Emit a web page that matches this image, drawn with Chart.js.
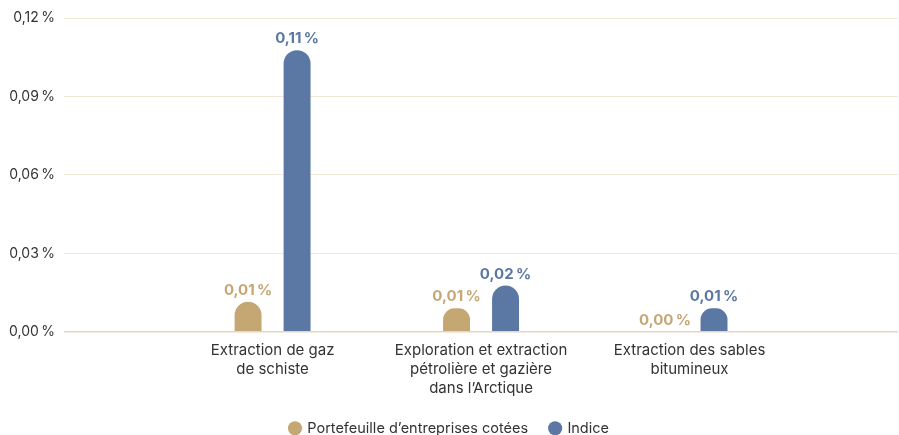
<!DOCTYPE html>
<html lang="fr">
<head>
<meta charset="utf-8">
<title>Exposition aux combustibles fossiles</title>
<script src="https://cdn.jsdelivr.net/npm/chart.js@4/dist/chart.umd.min.js"></script>
<style>
    body { margin: 0; background: #fff; }
    #graphique { display: block; }
</style>
</head>
<body>
<canvas id="graphique" width="899" height="435"></canvas>
<script>
const categories = [
    ['Extraction de gaz', 'de schiste'],
    ['Exploration et extraction', 'pétrolière et gazière', 'dans l\u2019Arctique'],
    ['Extraction des sables', 'bitumineux'],
];
const portefeuille = [0.0115, 0.009, 0];
const indice = [0.1077, 0.0177, 0.009];
const ticksY = [0, 0.03, 0.06, 0.09, 0.12];

const couleurPortefeuille = '#c5a774';
const couleurIndice = '#5b77a4';

function formatPct(v) {
    return v.toFixed(2).replace('.', ',') + '\u202f%';
}

// étiquettes au-dessus des barres
const etiquettesBarres = {
    id: 'etiquettesBarres',
    afterDatasetsDraw(chart) {
        const ctx = chart.ctx;
        ctx.save();
        ctx.font = 'bold 15px Inter';
        ctx.textAlign = 'center';
        ctx.textBaseline = 'alphabetic';
        chart.data.datasets.forEach((ds, i) => {
            const meta = chart.getDatasetMeta(i);
            meta.data.forEach((bar, j) => {
                const v = ds.data[j];
                if (v === null) return;
                ctx.fillStyle = ds.backgroundColor;
                ctx.fillText(formatPct(v), bar.x, bar.y - 7);
            });
        });
        ctx.restore();
    }
};

// une catégorie vide de chaque côté pour placer les groupes
const labels = [''].concat(categories, ['']);
const avecMarges = arr => [null].concat(arr, [null]);

new Chart(document.getElementById('graphique'), {
    type: 'bar',
    data: {
        labels: labels,
        datasets: [{
            label: 'Portefeuille d\u2019entreprises cotées',
            data: avecMarges(portefeuille),
            backgroundColor: couleurPortefeuille,
            borderRadius: {topLeft: 14, topRight: 14},
            borderSkipped: 'bottom',
            barPercentage: 0.55,
            categoryPercentage: 0.47,
        }, {
            label: 'Indice',
            data: avecMarges(indice),
            backgroundColor: couleurIndice,
            borderRadius: {topLeft: 14, topRight: 14},
            borderSkipped: 'bottom',
            barPercentage: 0.55,
            categoryPercentage: 0.47,
        }]
    },
    options: {
        responsive: false,
        animation: false,
        layout: {padding: {top: 18, right: 0, left: 0, bottom: 0}},
        plugins: {
            tooltip: {enabled: false},
            legend: {
                position: 'bottom',
                maxHeight: 36,
                labels: {
                    usePointStyle: true,
                    pointStyle: 'circle',
                    boxWidth: 10,
                    boxHeight: 10,
                    padding: 22,
                    color: '#333',
                    font: {family: 'Inter', size: 14.5}
                }
            }
        },
        scales: {
            x: {
                offset: false,
                grid: {display: false},
                border: {display: false},
                ticks: {
                    color: '#333',
                    padding: 1,
                    maxRotation: 0,
                    autoSkip: false,
                    font: {family: 'Inter', size: 15, lineHeight: 1.27}
                }
            },
            y: {
                min: ticksY[0],
                max: ticksY[ticksY.length - 1],
                afterBuildTicks: axis => { axis.ticks = ticksY.map(v => ({value: v})); },
                border: {display: false},
                grid: {
                    drawTicks: false,
                    color: c => c.tick.value === 0 ? '#e5d6c0' : '#f2e6d5',
                    lineWidth: c => c.tick.value === 0 ? 1.5 : 1
                },
                ticks: {
                    color: '#333',
                    padding: 9,
                    font: {family: 'Inter', size: 14},
                    callback: v => formatPct(v)
                }
            }
        }
    },
    plugins: [etiquettesBarres]
});
</script>
</body>
</html>
